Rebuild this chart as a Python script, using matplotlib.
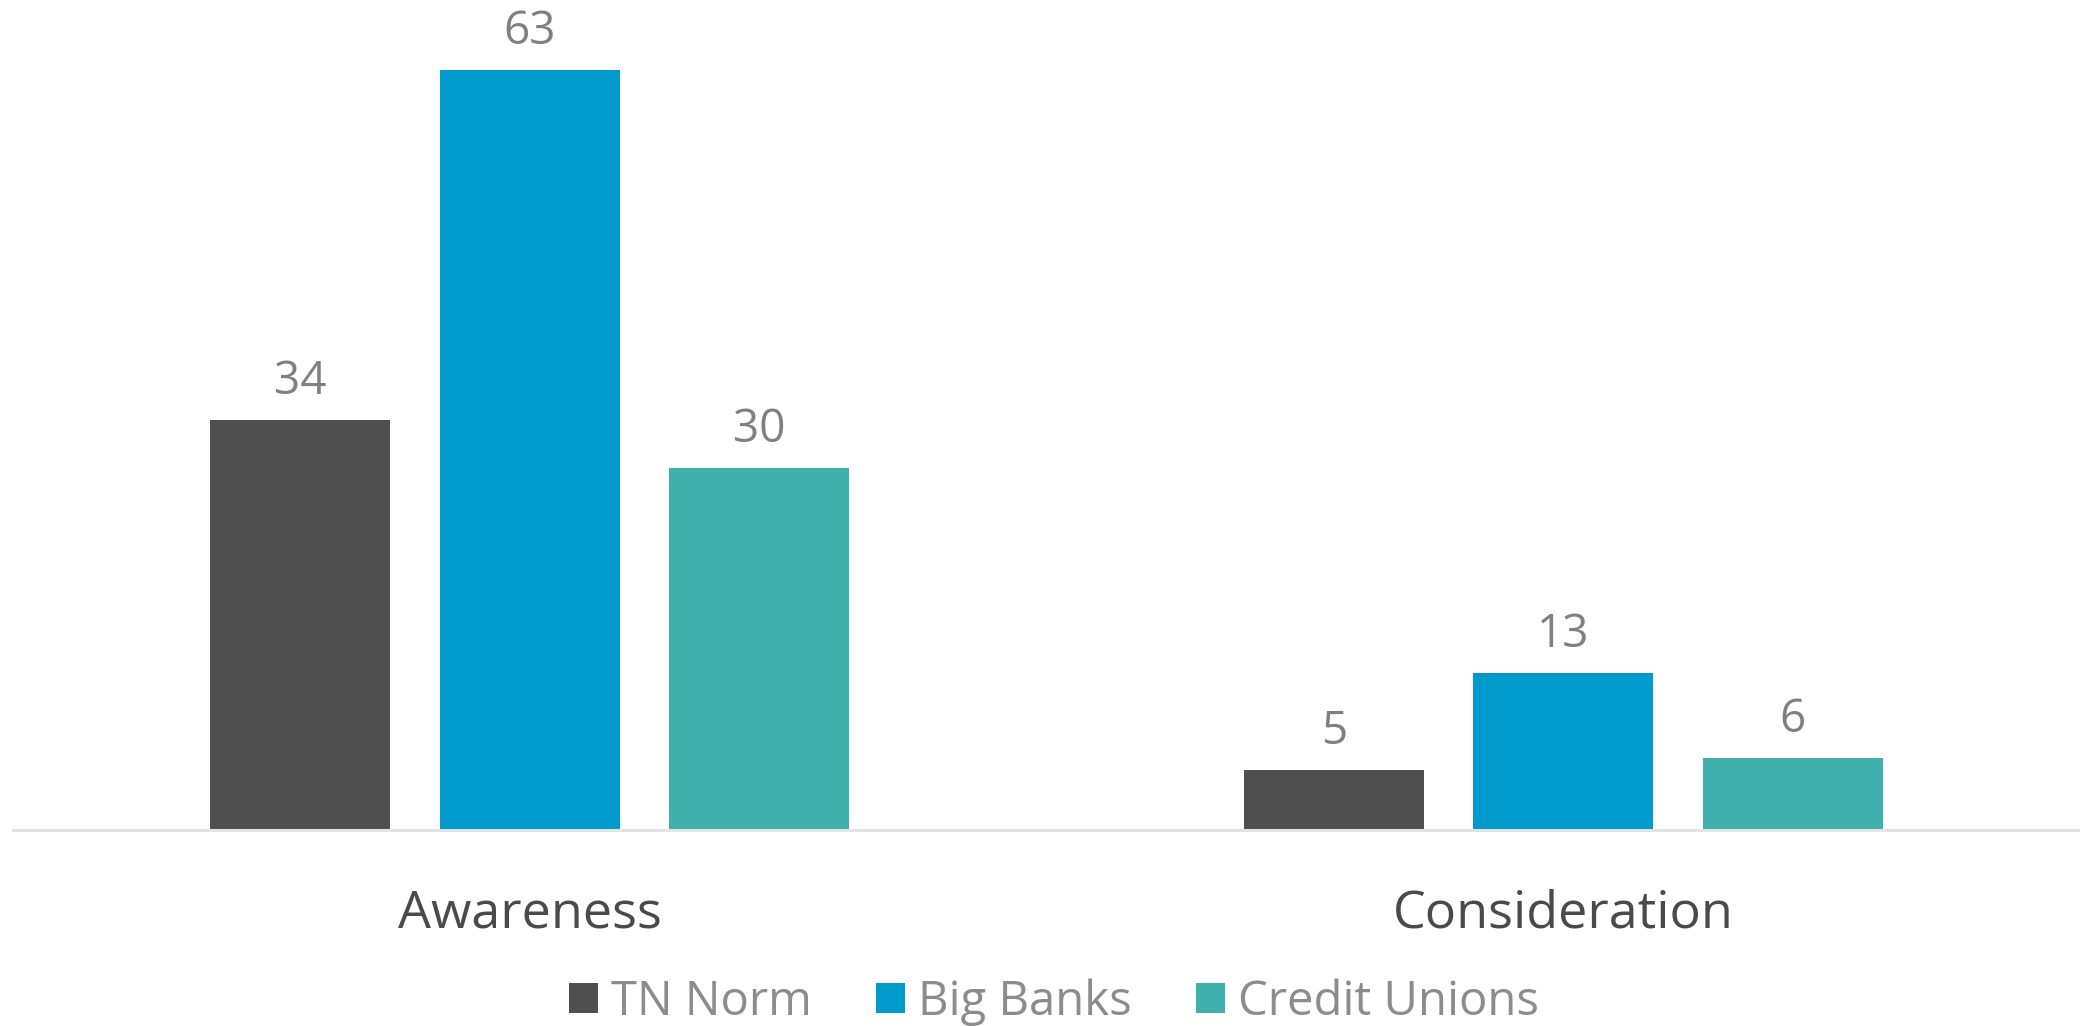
import matplotlib
matplotlib.use("Agg")
import matplotlib.pyplot as plt
from matplotlib.patches import Patch
from matplotlib.transforms import blended_transform_factory
import numpy as np

categories = ["Awareness", "Consideration"]
series_names = ["TN Norm", "Big Banks", "Credit Unions"]
tn_norm = [34, 5]
big_banks = [63, 13]
credit_unions = [30, 6]
colors = ["#4f4f4f", "#009bcc", "#40b0ac"]

plt.rcParams['font.family'] = ['Open Sans', 'DejaVu Sans']

W, H = 2080, 1026
fig = plt.figure(figsize=(W / 100, H / 100), dpi=100)
ax_left = 13 / W
ax_bottom = (H - 830) / H
ax = fig.add_axes([ax_left, ax_bottom, 1 - ax_left, 1 - ax_bottom])

x = np.arange(len(categories))
width = 0.174
step = 0.222
all_series = [tn_norm, big_banks, credit_unions]
for i, (vals, name, c) in enumerate(zip(all_series, series_names, colors)):
    pos = x + (i - 1) * step
    bars = ax.bar(pos, vals, width=width, color=c, label=name, zorder=2)
    for xp, v in zip(pos, vals):
        ax.annotate(str(v), (xp, v), xytext=(0, 18.5), textcoords="offset points",
                    ha="center", va="baseline", fontsize=33, color="#808080")

ax.set_xlim(-0.5, 1.5)
ax.set_ylim(0, 830 / 12.07)
for s in ["top", "right", "left"]:
    ax.spines[s].set_visible(False)
ax.spines["bottom"].set_color("#e3e3e3")
ax.spines["bottom"].set_linewidth(2.2)
ax.set_yticks([])
ax.set_xticks([])

tr = blended_transform_factory(ax.transData, fig.transFigure)
for xi, cat in zip(x, categories):
    ax.text(xi, (H - 927) / H, cat, transform=tr, ha="center", va="baseline",
            fontsize=37.5, color="#4a4a4a")

handles = [Patch(facecolor=c, edgecolor="none") for c in colors]
fig.legend(handles, series_names, loc="center", bbox_to_anchor=(1054 / W, 1 - 1002 / H),
           ncol=3, frameon=False, fontsize=34, handlelength=0.61, handleheight=0.61,
           handletextpad=0.28, columnspacing=1.36, labelcolor="#8c8c8c",
           borderpad=0, borderaxespad=0)

fig.savefig("out.png", dpi=100)
